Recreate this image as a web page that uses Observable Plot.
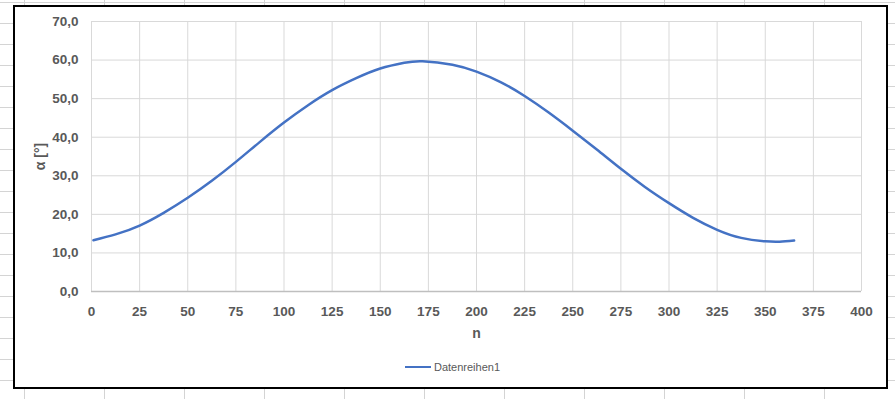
<!DOCTYPE html>
<html>
<head>
<meta charset="utf-8">
<script src="https://cdn.jsdelivr.net/npm/d3@7"></script>
<script src="https://cdn.jsdelivr.net/npm/@observablehq/plot@0.6"></script>
<style>
  html, body { margin: 0; padding: 0; }
  body {
    width: 895px; height: 399px; position: relative; overflow: hidden;
    background-color: #fff;
    background-image:
      linear-gradient(to right, #d4d4d4 1px, transparent 1px),
      linear-gradient(to bottom, #d4d4d4 1px, transparent 1px);
    background-size: 80px 100%, 100% 21px;
    background-position: 24px 0, 0 2px;
    font-family: "Liberation Sans", Arial, sans-serif;
  }
  #frame {
    position: absolute; left: 13px; top: 5px; width: 875px; height: 384px;
    box-sizing: border-box; border: 2px solid #000; background: #fff;
  }
  #chart { position: absolute; left: 0; top: 0; }
  #chart svg { overflow: visible; }
  #chart [aria-label="x-axis tick label"] text,
  #chart [aria-label="y-axis tick label"] text { font-weight: bold; }
  #chart [aria-label="x-axis label"] text,
  #chart [aria-label="y-axis label"] text { font-weight: bold; font-size: 14px; }
  #legend {
    position: absolute; left: 0; top: 361px; width: 895px;
    display: flex; justify-content: center; align-items: center;
    font-size: 11px; color: #595959; padding-left: 10px; box-sizing: border-box;
  }
  #legend .sw { display: inline-block; width: 26px; height: 2.5px; background: #4472C4; margin-right: 3px; }
</style>
</head>
<body>
<div id="frame"></div>
<div id="chart"></div>
<div id="legend"><span class="sw"></span><span>Datenreihen1</span></div>
<script>
// Day number n and angle α [°]
const dayN = [1, 12.5, 25, 37.5, 50, 62.5, 75, 87.5, 100, 112.5, 125, 137.5, 150, 162.5, 172, 187.5, 200, 212.5, 225, 237.5, 250, 262.5, 275, 287.5, 300, 312.5, 325, 337.5, 350, 357.5, 365];
const alphaDeg = [13.3, 14.8, 17.1, 20.4, 24.3, 28.7, 33.6, 38.8, 43.8, 48.3, 52.2, 55.3, 57.8, 59.3, 59.7, 58.8, 57.0, 54.3, 50.7, 46.4, 41.7, 36.8, 31.8, 27.1, 22.9, 19.1, 16.0, 13.9, 13.0, 12.9, 13.2];
const xTicks = [0, 25, 50, 75, 100, 125, 150, 175, 200, 225, 250, 275, 300, 325, 350, 375, 400];
const yTicks = [0, 10, 20, 30, 40, 50, 60, 70];
const seriesName = "Datenreihen1";

const data = dayN.map((n, i) => ({n, a: alphaDeg[i]}));

const chart = Plot.plot({
  width: 895,
  height: 345,
  marginLeft: 91,
  marginRight: 34,
  marginTop: 21,
  marginBottom: 54,
  style: {
    fontFamily: "'Liberation Sans', Arial, sans-serif",
    fontSize: "13.5px",
    color: "#595959",
    background: "transparent"
  },
  x: {domain: [0, 400]},
  y: {domain: [0, 70]},
  marks: [
    Plot.gridX(xTicks, {stroke: "#d9d9d9", strokeOpacity: 1}),
    Plot.gridY(yTicks, {stroke: "#d9d9d9", strokeOpacity: 1}),
    Plot.ruleY([0], {stroke: "#bfbfbf", strokeWidth: 1.3}),
    Plot.line(data, {x: "n", y: "a", stroke: "#4472C4", strokeWidth: 2.5, curve: "natural"}),
    Plot.axisX(xTicks, {tickSize: 0, tickPadding: 15, label: "n", labelArrow: "none", labelAnchor: "center", labelOffset: 46, fill: "#595959"}),
    Plot.axisY(yTicks, {tickSize: 0, tickPadding: 13, tickFormat: d => d.toFixed(1).replace(".", ","), label: "α [°]", labelArrow: "none", labelAnchor: "center", labelOffset: 56, fill: "#595959"})
  ]
});
document.getElementById("chart").appendChild(chart);
</script>
</body>
</html>
